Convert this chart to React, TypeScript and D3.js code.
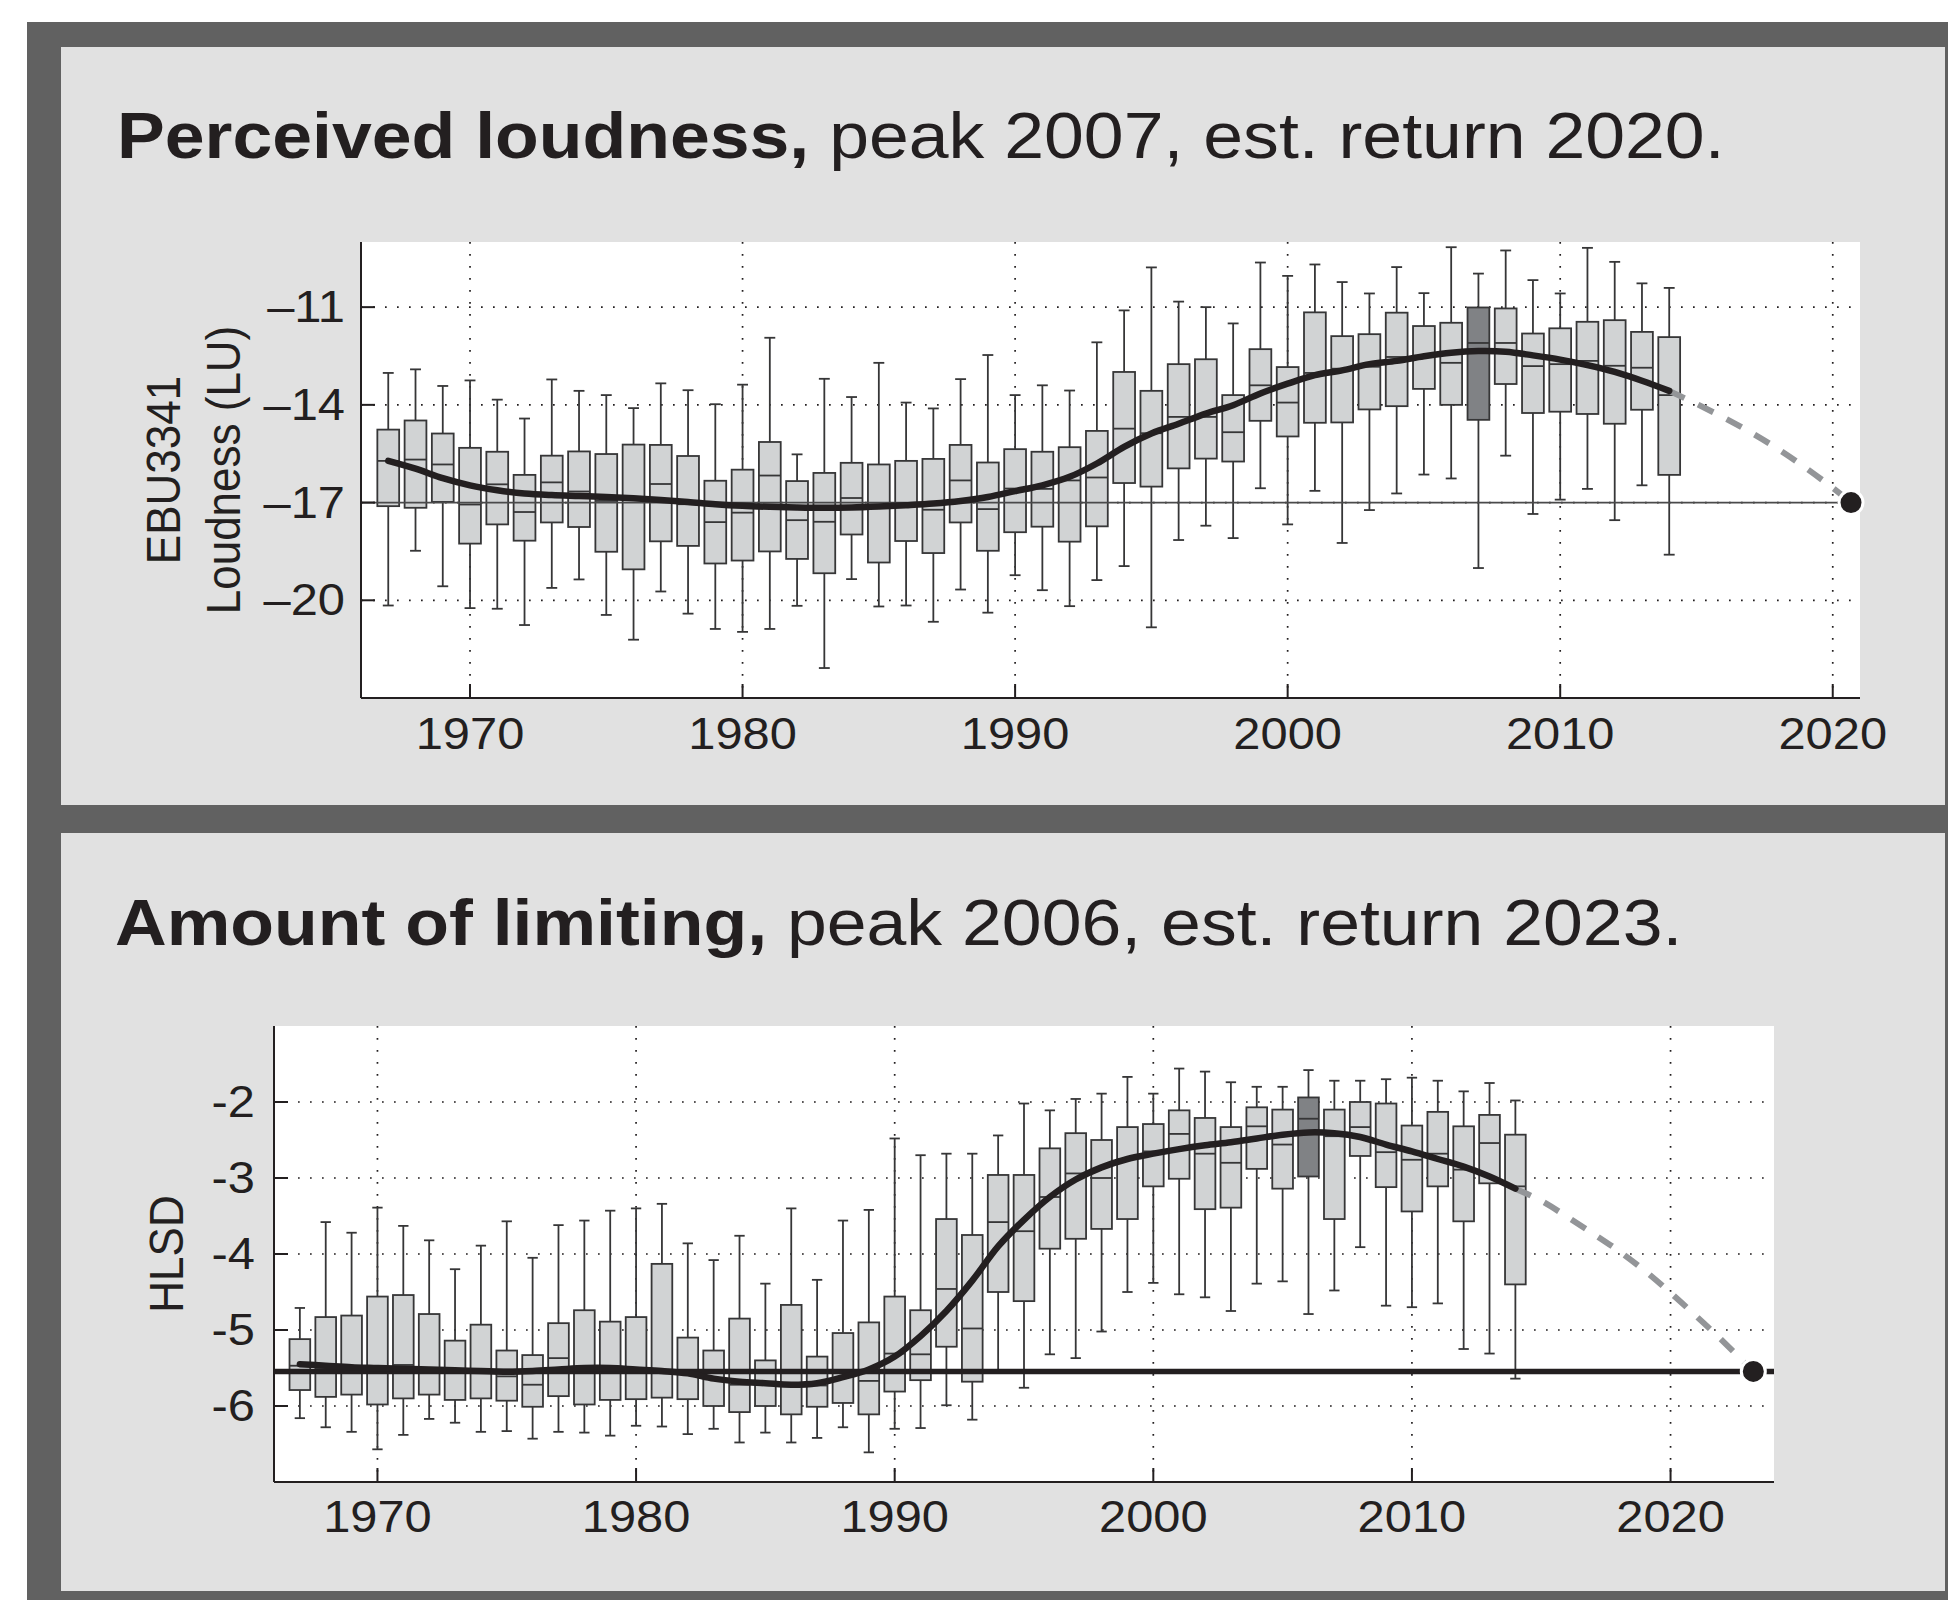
import * as React from "react";
import * as d3 from "d3";

// ---- data ----
const years = [
  1967, 1968, 1969, 1970, 1971, 1972, 1973, 1974, 1975, 1976, 1977, 1978, 1979, 1980, 1981, 1982,
  1983, 1984, 1985, 1986, 1987, 1988, 1989, 1990, 1991, 1992, 1993, 1994, 1995, 1996, 1997, 1998,
  1999, 2000, 2001, 2002, 2003, 2004, 2005, 2006, 2007, 2008, 2009, 2010, 2011, 2012, 2013, 2014,
];
const xTickYears = [1970, 1980, 1990, 2000, 2010, 2020];

// Perceived loudness (EBU3341, LU)
const loudHi = [
  -13.02, -12.91, -13.42, -13.25, -13.84, -14.42, -13.22, -13.57, -13.7, -14.1, -13.34, -13.55, -13.98, -13.38, -11.94, -15.52,
  -13.2, -13.76, -12.71, -13.93, -14.11, -13.21, -12.47, -13.7, -13.4, -13.56, -12.08, -11.1, -9.78, -10.83, -11.0, -11.5,
  -9.63, -10.04, -9.69, -10.23, -10.58, -9.77, -10.57, -9.16, -9.97, -9.26, -10.17, -10.58, -9.18, -9.61, -10.27, -10.41,
];
const loudQ3 = [
  -14.76, -14.48, -14.88, -15.32, -15.44, -16.15, -15.56, -15.43, -15.51, -15.22, -15.23, -15.57, -16.33, -15.99, -15.14, -16.34,
  -16.09, -15.78, -15.83, -15.72, -15.66, -15.23, -15.77, -15.36, -15.44, -15.3, -14.8, -12.99, -13.57, -12.75, -12.6, -13.7,
  -12.29, -12.84, -11.16, -11.89, -11.83, -11.17, -11.58, -11.48, -11.01, -11.04, -11.81, -11.65, -11.45, -11.4, -11.76, -11.92,
];
const loudMedian = [
  -15.72, -15.68, -15.83, -17.06, -16.44, -17.29, -16.38, -16.66, -16.95, -16.9, -16.43, -17.05, -17.6, -17.31, -16.17, -17.54,
  -17.59, -16.86, -17.1, -17.1, -17.22, -16.32, -17.2, -16.57, -16.58, -16.32, -16.23, -14.73, -14.87, -14.37, -14.37, -14.84,
  -13.4, -13.93, -13.02, -12.89, -12.83, -12.53, -12.5, -12.71, -12.1, -12.1, -12.81, -12.75, -12.65, -12.8, -12.86, -13.7,
];
const loudQ1 = [
  -17.11, -17.16, -16.98, -18.26, -17.67, -18.17, -17.61, -17.75, -18.51, -19.05, -18.19, -18.33, -18.87, -18.78, -18.5, -18.73,
  -19.17, -17.98, -18.84, -18.18, -18.55, -17.61, -18.48, -17.91, -17.74, -18.2, -17.73, -16.4, -16.51, -15.95, -15.65, -15.74,
  -14.49, -14.97, -14.55, -14.54, -14.14, -14.04, -13.51, -14.0, -14.46, -13.36, -14.25, -14.21, -14.28, -14.58, -14.15, -16.15,
];
const loudLo = [
  -20.16, -18.48, -19.57, -20.24, -20.26, -20.76, -19.62, -19.36, -20.45, -21.21, -19.73, -20.41, -20.88, -20.97, -20.88, -20.17,
  -22.08, -19.35, -20.19, -20.16, -20.66, -19.67, -20.38, -19.23, -19.69, -20.18, -19.38, -18.95, -20.83, -18.15, -17.71, -18.09,
  -16.56, -17.67, -16.64, -18.24, -17.23, -16.72, -16.14, -16.26, -19.01, -15.56, -17.35, -16.91, -16.58, -17.54, -16.47, -18.6,
];
const loudTrend = [
  -15.72, -15.96, -16.25, -16.47, -16.62, -16.72, -16.77, -16.8, -16.83, -16.87, -16.92, -16.98, -17.05, -17.1, -17.13, -17.15,
  -17.16, -17.15, -17.12, -17.08, -17.03, -16.95, -16.83, -16.65, -16.47, -16.21, -15.8, -15.29, -14.88, -14.58, -14.27, -14.01,
  -13.65, -13.35, -13.09, -12.94, -12.75, -12.65, -12.51, -12.4, -12.35, -12.37, -12.48, -12.61, -12.78, -12.99, -13.26, -13.57,
];
const loudProjYears = [2014, 2015, 2016, 2017, 2018, 2019, 2020, 2020.67];
const loudProj = [-13.57, -13.97, -14.39, -14.85, -15.36, -15.93, -16.55, -17.0];
const loudRef = -17;
const loudReturn = 2020.67;
const loudPeakYear = 2007;
const loudYTicks = [-20, -17, -14, -11];

// Amount of limiting (HLSD)
const hlsdHi = [
  -4.71, -3.58, -3.72, -3.39, -3.63, -3.82, -4.2, -3.89, -3.57, -4.05, -3.62, -3.56, -3.43, -3.4, -3.34, -3.86,
  -4.08, -3.76, -4.39, -3.4, -4.34, -3.56, -3.42, -2.48, -2.7, -2.68, -2.68, -2.44, -2.02, -2.11, -1.96, -1.89,
  -1.67, -1.89, -1.56, -1.6, -1.74, -1.8, -1.8, -1.58, -1.72, -1.72, -1.7, -1.68, -1.72, -1.86, -1.75, -1.98,
];
const hlsdQ3 = [
  -5.12, -4.83, -4.81, -4.56, -4.54, -4.79, -5.14, -4.93, -5.27, -5.33, -4.91, -4.74, -4.89, -4.83, -4.13, -5.1,
  -5.27, -4.85, -5.4, -4.67, -5.35, -5.04, -4.9, -4.56, -4.74, -3.54, -3.75, -2.96, -2.96, -2.61, -2.41, -2.5,
  -2.33, -2.29, -2.11, -2.21, -2.33, -2.07, -2.1, -1.94, -2.1, -2.0, -2.02, -2.31, -2.13, -2.32, -2.17, -2.43,
];
const hlsdMedian = [
  -5.47, -5.5, -5.53, -5.53, -5.46, -5.53, -5.55, -5.54, -5.61, -5.72, -5.37, -5.5, -5.53, -5.53, -5.55, -5.57,
  -5.64, -5.72, -5.7, -5.72, -5.73, -5.55, -5.67, -5.31, -5.32, -4.46, -4.98, -3.58, -3.7, -3.25, -2.94, -3.0,
  -2.75, -2.65, -2.42, -2.68, -2.8, -2.32, -2.56, -2.22, -2.45, -2.33, -2.66, -2.76, -2.68, -2.89, -2.54, -3.11,
];
const hlsdQ1 = [
  -5.79, -5.88, -5.85, -5.98, -5.9, -5.85, -5.92, -5.9, -5.93, -6.01, -5.87, -5.98, -5.92, -5.91, -5.89, -5.91,
  -6.0, -6.08, -6.0, -6.11, -6.01, -5.96, -6.11, -5.81, -5.66, -5.22, -5.68, -4.5, -4.62, -3.93, -3.8, -3.67,
  -3.54, -3.11, -3.01, -3.41, -3.39, -2.88, -3.14, -2.98, -3.54, -2.71, -3.12, -3.44, -3.11, -3.57, -3.07, -4.4,
];
const hlsdLo = [
  -6.16, -6.28, -6.34, -6.57, -6.38, -6.17, -6.22, -6.34, -6.33, -6.43, -6.34, -6.35, -6.39, -6.26, -6.27, -6.37,
  -6.3, -6.48, -6.35, -6.48, -6.42, -6.28, -6.61, -6.3, -6.29, -5.99, -6.18, -5.53, -5.76, -5.32, -5.37, -5.02,
  -4.5, -4.38, -4.53, -4.57, -4.75, -4.39, -4.36, -4.79, -4.48, -3.91, -4.68, -4.7, -4.65, -5.25, -5.31, -5.64,
];
const hlsdTrend = [
  -5.45, -5.47, -5.49, -5.5, -5.51, -5.52, -5.53, -5.54, -5.55, -5.54, -5.52, -5.5, -5.5, -5.52, -5.54, -5.57,
  -5.64, -5.68, -5.7, -5.72, -5.7, -5.62, -5.52, -5.35, -5.08, -4.75, -4.35, -3.9, -3.55, -3.25, -3.02, -2.86,
  -2.75, -2.68, -2.62, -2.57, -2.53, -2.48, -2.43, -2.4, -2.41, -2.46, -2.56, -2.65, -2.75, -2.85, -2.98, -3.14,
];
const hlsdProjYears = [2014, 2015, 2016, 2017, 2018, 2019, 2020, 2021, 2022, 2023.2];
const hlsdProj = [-3.14, -3.3, -3.51, -3.73, -3.96, -4.22, -4.51, -4.82, -5.14, -5.545];
const hlsdRef = -5.545;
const hlsdReturn = 2023.2;
const hlsdPeakYear = 2006;
const hlsdYTicks = [-6, -5, -4, -3, -2];

// ---- styling ----
const SX = 1.11; // the reference's lettering is slightly wide
const FONT = "'Liberation Sans', Arial, Helvetica, sans-serif";
const INK = "#231f20";

function Txt({ x, y, size, rotate = false, anchor = "start", children }: any) {
  return (
    <text
      transform={`translate(${x},${y}) scale(${SX},1)${rotate ? " rotate(-90)" : ""}`}
      fontSize={size}
      textAnchor={anchor}
      fill={INK}
      fontFamily={FONT}
    >
      {children}
    </text>
  );
}

interface PanelProps {
  plot: { left: number; right: number; top: number; bottom: number };
  xDomain: [number, number];
  yDomain: [number, number];
  yTicks: number[];
  minus: string;
  hi: number[];
  q3: number[];
  med: number[];
  q1: number[];
  lo: number[];
  trend: number[];
  projYears: number[];
  proj: number[];
  refY: number;
  returnYear: number;
  peakYear: number;
  thickRef: boolean;
  yLabelX: number;
  xLabelY: number;
}

function BoxPanel(p: PanelProps) {
  const { plot } = p;
  const x = d3.scaleLinear().domain(p.xDomain).range([plot.left, plot.right]);
  const y = d3.scaleLinear().domain(p.yDomain).range([plot.bottom, plot.top]);
  const yr = x(1971) - x(1970);
  const bw = yr * 0.8;
  const cap = yr * 0.4;

  const trendLine = d3
    .line<number>()
    .x((_, i) => x(years[i]))
    .y((d) => y(d))
    .curve(d3.curveCatmullRom.alpha(0.5));
  const projLine = d3
    .line<number>()
    .x((_, i) => x(p.projYears[i]))
    .y((d) => y(d))
    .curve(d3.curveCatmullRom.alpha(0.5));

  const fmt = (v: number) => (v < 0 ? p.minus + Math.abs(v) : String(v));

  return (
    <g>
      <rect x={plot.left} y={plot.top} width={plot.right - plot.left} height={plot.bottom - plot.top} fill="#fff" />
      {/* dotted grid */}
      {xTickYears.map((t) => (
        <line key={"gx" + t} x1={x(t)} x2={x(t)} y1={plot.top} y2={plot.bottom}
          stroke={INK} strokeWidth={1.7} strokeDasharray="1.7 10.3" />
      ))}
      {p.yTicks.map((t) => (
        <line key={"gy" + t} x1={plot.left} x2={plot.right} y1={y(t)} y2={y(t)}
          stroke={INK} strokeWidth={1.7} strokeDasharray="1.7 10.3" />
      ))}
      {/* boxes */}
      {years.map((yv, i) => {
        const cx = x(yv);
        const dark = yv === p.peakYear;
        return (
          <g key={yv} stroke="#363637" strokeWidth={1.8}>
            <line x1={cx} x2={cx} y1={y(p.hi[i])} y2={y(p.q3[i])} />
            <line x1={cx} x2={cx} y1={y(p.q1[i])} y2={y(p.lo[i])} />
            <line x1={cx - cap / 2} x2={cx + cap / 2} y1={y(p.hi[i])} y2={y(p.hi[i])} />
            <line x1={cx - cap / 2} x2={cx + cap / 2} y1={y(p.lo[i])} y2={y(p.lo[i])} />
            <rect x={cx - bw / 2} y={y(p.q3[i])} width={bw} height={y(p.q1[i]) - y(p.q3[i])}
              fill={dark ? "#808285" : "#d1d3d4"} />
            <line x1={cx - bw / 2} x2={cx + bw / 2} y1={y(p.med[i])} y2={y(p.med[i])} />
          </g>
        );
      })}
      {/* reference level */}
      {p.thickRef ? (
        <line x1={plot.left} x2={plot.right} y1={y(p.refY)} y2={y(p.refY)} stroke={INK} strokeWidth={5.5} />
      ) : (
        <line x1={plot.left} x2={x(p.returnYear)} y1={y(p.refY)} y2={y(p.refY)} stroke="#4a4a4b" strokeWidth={1.8} />
      )}
      {/* trend and projection */}
      <path d={projLine(p.proj) || ""} fill="none" stroke="#939598" strokeWidth={6} strokeDasharray="17 15" />
      <path d={trendLine(p.trend) || ""} fill="none" stroke={INK} strokeWidth={6.5} strokeLinecap="round" />
      <circle cx={x(p.returnYear)} cy={y(p.refY)} r={12} fill={INK} stroke="#fff" strokeWidth={3} />
      {/* axes */}
      <line x1={plot.left} x2={plot.left} y1={plot.top} y2={plot.bottom} stroke={INK} strokeWidth={2} />
      <line x1={plot.left} x2={plot.right} y1={plot.bottom} y2={plot.bottom} stroke={INK} strokeWidth={2} />
      {p.yTicks.map((t) => (
        <g key={"ty" + t}>
          <line x1={plot.left} x2={plot.left + 14} y1={y(t)} y2={y(t)} stroke={INK} strokeWidth={2} />
          <Txt x={p.yLabelX} y={y(t) + 15} size={44} anchor="end">{fmt(t)}</Txt>
        </g>
      ))}
      {xTickYears.map((t) => (
        <g key={"tx" + t}>
          <line x1={x(t)} x2={x(t)} y1={plot.bottom} y2={plot.bottom - 14} stroke={INK} strokeWidth={2} />
          <Txt x={x(t)} y={p.xLabelY} size={44} anchor="middle">{t}</Txt>
        </g>
      ))}
    </g>
  );
}

export default function App() {
  const topPlot = { left: 361, right: 1860, top: 242, bottom: 698 };
  const botPlot = { left: 274, right: 1774, top: 1026, bottom: 1482 };
  return (
    <svg width={1948} height={1600} style={{ position: "absolute", left: 0, top: 0 }}>
      <rect x={0} y={0} width={1948} height={1600} fill="#fff" />
      <rect x={27} y={22} width={1921} height={1578} fill="#616161" />
      <rect x={61} y={47} width={1884} height={758} fill="#e1e1e1" />
      <rect x={61} y={833} width={1884} height={758} fill="#e1e1e1" />

      <Txt x={117} y={158} size={64.5}>
        <tspan fontWeight="bold">Perceived loudness,</tspan> peak {loudPeakYear}, est. return 2020.
      </Txt>
      <Txt x={180} y={470} size={44} rotate anchor="middle">EBU3341</Txt>
      <Txt x={240} y={470} size={44} rotate anchor="middle">Loudness (LU)</Txt>
      <BoxPanel
        plot={topPlot} xDomain={[1966, 2021]} yDomain={[-23, -9]} yTicks={loudYTicks} minus={"\u2013"}
        hi={loudHi} q3={loudQ3} med={loudMedian} q1={loudQ1} lo={loudLo} trend={loudTrend}
        projYears={loudProjYears} proj={loudProj} refY={loudRef} returnYear={loudReturn}
        peakYear={loudPeakYear} thickRef={false} yLabelX={345} xLabelY={749}
      />

      <Txt x={115} y={945} size={64.5}>
        <tspan fontWeight="bold">Amount of limiting,</tspan> peak {hlsdPeakYear}, est. return 2023.
      </Txt>
      <Txt x={183} y={1254} size={44} rotate anchor="middle">HLSD</Txt>
      <BoxPanel
        plot={botPlot} xDomain={[1966, 2024]} yDomain={[-7, -1]} yTicks={hlsdYTicks} minus="-"
        hi={hlsdHi} q3={hlsdQ3} med={hlsdMedian} q1={hlsdQ1} lo={hlsdLo} trend={hlsdTrend}
        projYears={hlsdProjYears} proj={hlsdProj} refY={hlsdRef} returnYear={hlsdReturn}
        peakYear={hlsdPeakYear} thickRef={true} yLabelX={255} xLabelY={1532}
      />
    </svg>
  );
}
